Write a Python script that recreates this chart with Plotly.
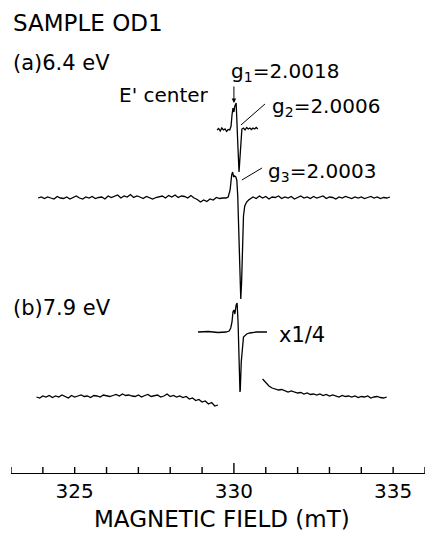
import plotly.graph_objects as go

# ---------------- data (field in mT, signal in arbitrary units) ----------------
# (a) 6.4 eV : full sweep, left baseline (uniform sweep grid)
A_LEFT_START, A_LEFT_STEP = 323.85, 0.1
a_left = [0, 1, -0.5, 1, 0, -1, 1.5, 0, -0.5, 1, -1, 0.5, 2, 0, -1, 1, 0, 1.5, -0.5, 0.5,
          1, -1, 2, 0.5, 1.5, 3, 0, 2, 1, 3.5, 0.5, 2, 1, -0.5, 1.5, 0, -1, 0.5, 1, 2,
          0, 2.5, 1, 3, 0.5, 2, 1.5, 0, 2.5, 0, -1.5, -4, -2, -3.5, -1, -2, 0.5, -0.5, 0]
# (a) resonance region
a_center_field = [329.75, 329.82, 329.88, 329.93, 329.96, 329.99, 330.02, 330.06, 330.09, 330.12,
                  330.155, 330.19, 330.215, 330.24, 330.27, 330.30, 330.34, 330.40, 330.46]
a_center = [0, 1, 8, 23, 26, 21, 22, 21, 18, 2, -30, -75, -101, -85, -45, -18, -8, -4, -2]
# (a) right baseline
A_RIGHT_START, A_RIGHT_STEP = 330.5, 0.1
a_right = [-1, 1, -0.5, 2, 0, 1.5, -1, 1, 0.5, 2, -0.5, 1, 0, 1.5, -1, 0.5, 2, 0, 1, -0.5,
           1.5, 0, 1, 2, -0.5, 1, 0.5, -1, 1, 0, 1.5, 0.5, -0.5, 1, 0, 1, -0.5, 0.5, 1.5, 0,
           1, -0.5, 0.5, 0, 1]

# (a) expanded g1 region (upper inset)
AI_LEFT_START, AI_STEP = 329.47, 0.05
ai_left = [0, 1.5, -1, 2, 0, 1, -1.5, 0.5, 0]
ai_center_field = [329.91, 329.94, 329.97, 330.00, 330.03, 330.07, 330.10, 330.13, 330.16, 330.19, 330.22, 330.25]
ai_center = [4, 15, 22, 18, 24, 27, 10, -20, -42, -25, -5, 1]
AI_RIGHT_START = 330.30
ai_right = [2, 0, 2.5, 1, 2, 0.5, 2, 1, 2.5, 1]

# (b) 7.9 eV : x1/4 trace
b_inset_field = [328.87, 329.2, 329.5, 329.75, 329.85, 329.9, 329.94, 329.97, 330.0, 330.03, 330.07,
                 330.10, 330.13, 330.16, 330.19, 330.20, 330.23, 330.27, 330.30, 330.40, 330.50, 330.70, 331.04]
b_inset = [0, 0.5, -0.5, 0, 1, 4, 10, 20, 22, 18, 27, 29, 10, -30, -60, -58, -30, -10, -5, -2, -1, 0, 0]

# (b) 7.9 eV : full-gain sweep, left and right wings
B_LEFT_START, B_STEP = 323.8, 0.1
b_left = [0, -1, 1, 0, 1.5, -0.5, 1, 0, 2, 0.5, -1, 1.5, 0, 1, 2, 0.5, 1, -0.5, 1.5, 1,
          0, 2, 1, 0.5, 1.5, 2.5, 1, 3, 1.5, 2, 1, 0.5, 2, 0, 1.5, 2.5, 0.5, 1, 2, 0,
          1, 3, 0.5, 1.5, 0, 1, -0.5, 0.5, -2, -1, -3.5, -2.5, -5, -4, -7, -5.5, -9, -8]
B_RIGHT_START = 330.9
b_right = [18, 14, 11, 9, 8, 7, 7.5, 6, 5, 6, 5, 4, 4.5, 3, 4, 2.5, 3, 2, 3, 1.5,
           2.5, 1, 2, 1, 0, 1.5, 0.5, 1, 0, 1, -0.5, 0.5, 0, 1, -1, 0, 0.5, -0.5, -1, 0]

x_tickvals = [325, 330, 335]
x_ticktext = ["325", "330", "335"]
x_minor_ticks = list(range(323, 337))
X_RANGE = [323, 336]
X_TITLE = "MAGNETIC FIELD (mT)"

# ---------------- layout constants ----------------
OFF_A_INSET = 343
OFF_A = 275
OFF_B_INSET = 141
OFF_B = 76
TICK_LEN, CENTER_TICK_LEN = 6, 10   # in y units (1 unit = 1 px here)


def grid(start, step, vals):
    return [round(start + step * i, 4) for i in range(len(vals))]


def shift(vals, off):
    return [v + off for v in vals]


line = dict(color="black", width=1.3)
FONT = "DejaVu Sans"

fig = go.Figure()

# (a) full sweep
fa_x = grid(A_LEFT_START, A_LEFT_STEP, a_left) + a_center_field + grid(A_RIGHT_START, A_RIGHT_STEP, a_right)
fa_y = shift(a_left + a_center + a_right, OFF_A)
fig.add_trace(go.Scatter(x=fa_x, y=fa_y, mode="lines", line=line))

# (a) inset
ai_x = grid(AI_LEFT_START, AI_STEP, ai_left) + ai_center_field + grid(AI_RIGHT_START, AI_STEP, ai_right)
ai_y = shift(ai_left + ai_center + ai_right, OFF_A_INSET)
fig.add_trace(go.Scatter(x=ai_x, y=ai_y, mode="lines", line=line))

# (b) inset
fig.add_trace(go.Scatter(x=b_inset_field, y=shift(b_inset, OFF_B_INSET), mode="lines", line=line))

# (b) wings
fig.add_trace(go.Scatter(x=grid(B_LEFT_START, B_STEP, b_left), y=shift(b_left, OFF_B), mode="lines", line=line))
fig.add_trace(go.Scatter(x=grid(B_RIGHT_START, B_STEP, b_right), y=shift(b_right, OFF_B), mode="lines", line=line))


def txt(x, y, s, size=20):
    fig.add_annotation(x=x, y=y, xref="x", yref="y", text=s, showarrow=False,
                       xanchor="left", yanchor="middle", font=dict(family=FONT, size=size, color="black"))


txt(323.0, 450, "SAMPLE OD1", 23)
txt(323.0, 410, "(a)6.4 eV", 21)
txt(326.33, 378, "E' center", 20)
txt(329.85, 401, "g<sub>1</sub>=2.0018", 20)
txt(331.12, 366, "g<sub>2</sub>=2.0006", 20)
txt(331.02, 301, "g<sub>3</sub>=2.0003", 20)
txt(323.0, 165, "(b)7.9 eV", 21)
txt(331.35, 138, "x1/4", 21)

# axis title (paper annotation anchored at the bottom edge of the page)
fig.add_annotation(x=0.51, y=-60 / 473, xref="paper", yref="paper", text=X_TITLE, showarrow=False,
                   xanchor="center", yanchor="bottom", borderpad=0,
                   font=dict(family=FONT, size=23, color="black"))

# g1 arrow
fig.add_annotation(x=330.0, y=370, ax=330.0, ay=388, xref="x", yref="y", axref="x", ayref="y",
                   text="", showarrow=True, arrowhead=2, arrowsize=0.9, arrowwidth=1, arrowcolor="black")
# g2 / g3 pointer lines
fig.add_shape(type="line", x0=330.22, y0=348, x1=330.975, y1=369, xref="x", yref="y",
              line=dict(color="black", width=1))
fig.add_shape(type="line", x0=330.25, y0=293, x1=330.88, y1=305, xref="x", yref="y",
              line=dict(color="black", width=1))
# upward tick marks every 1 mT, longer at 330 mT
for v in x_minor_ticks:
    fig.add_shape(type="line", x0=v, x1=v, y0=0, y1=CENTER_TICK_LEN if v == 330 else TICK_LEN,
                  xref="x", yref="y", line=dict(color="black", width=1.4))

fig.update_layout(
    width=427, height=533,
    margin=dict(l=11, r=2, t=0, b=60),
    paper_bgcolor="white", plot_bgcolor="white",
    showlegend=False,
    font=dict(family=FONT, color="black"),
    xaxis=dict(
        range=X_RANGE, showgrid=False, zeroline=False, automargin=False,
        showline=True, linecolor="black", linewidth=1,
        ticks="", tickvals=x_tickvals, ticktext=x_ticktext,
        tickfont=dict(family=FONT, size=20, color="black"),
    ),
    yaxis=dict(range=[0, 473], visible=False, showgrid=False, zeroline=False, automargin=False),
)

fig.write_html("out.html")
